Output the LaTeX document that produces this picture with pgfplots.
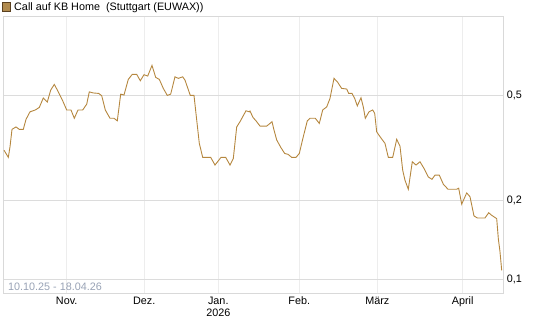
\documentclass[border=0pt]{standalone}
\usepackage{pgfplots}
\pgfplotsset{compat=1.18}
\usepackage{fontspec}
\setmainfont{Liberation Sans}
\definecolor{linebrown}{HTML}{B5873F}
\definecolor{legbrown}{HTML}{B08A4E}
\definecolor{legdark}{HTML}{5A4020}
\definecolor{gridh}{HTML}{DCDCDC}
\definecolor{gridv}{HTML}{EDEDED}
\definecolor{frame}{HTML}{D9D9D9}
\definecolor{datecol}{HTML}{98A2B5}
\begin{document}
\begin{tikzpicture}
\fontsize{10.8bp}{12.5bp}\selectfont
\path[use as bounding box] (0,0) rectangle (545bp,327bp);
\begin{axis}[
  at={(3bp,34bp)}, anchor=south west,
  width=500bp, height=277bp, scale only axis,
  xmin=3, xmax=503,
  ymode=log, ymin=0.0885, ymax=1.006,
  axis line style={frame},
  major tick length=0pt, minor tick length=0pt,
  ytick={0.1,0.2,0.5}, yticklabels={{0,1},{0,2},{0,5}},
  yticklabel pos=right,
  yminorgrids=false, yminorticks=false,
  ymajorgrids, xmajorgrids,
  y grid style={gridh, line width=0.8bp},
  x grid style={gridv, line width=0.8bp},
  xtick={66.7,144.3,218.3,299.3,377.3,462.7},
  xticklabels={Nov.,Dez.,{Jan.\\2026},Feb.,März,April},
  xticklabel style={align=center, font=\fontsize{10.8bp}{12.5bp}\selectfont},
  yticklabel style={font=\fontsize{10.8bp}{12.5bp}\selectfont},
  tick label style={text=black},
]
\addplot[linebrown, line width=0.9bp] coordinates {
(4,0.310) (8.3,0.291) (10,0.319) (12,0.372) (16,0.380) (19.3,0.372) (23.3,0.372)
(26,0.406) (30,0.434) (35.3,0.441) (39.3,0.451) (43.3,0.490) (47.3,0.473)
(50.7,0.525) (54.3,0.552) (58.3,0.517) (62.7,0.478) (66.7,0.441) (71,0.441)
(74.3,0.410) (78,0.441) (82.7,0.441) (86.7,0.464) (89.3,0.517) (93.3,0.512)
(98.7,0.510) (101.7,0.500) (105.3,0.441) (110,0.410) (114,0.410) (117.3,0.401)
(120.7,0.507) (124,0.503) (128.3,0.577) (132.3,0.603) (136.7,0.603) (140.3,0.570)
(144,0.601) (147.7,0.594) (152,0.652) (155.7,0.587) (159.3,0.577) (163.3,0.533)
(167.3,0.501) (170.7,0.507) (175,0.590) (178.3,0.582) (182.7,0.590) (185,0.573)
(190.3,0.501) (194,0.501) (196.7,0.404) (199.3,0.329) (202.7,0.291) (210.7,0.291)
(215,0.272) (221,0.291) (225.7,0.291) (230,0.272) (233.3,0.288) (236.7,0.380)
(240,0.398) (246,0.438) (249.3,0.434) (250,0.437) (253,0.413) (256,0.401)
(260,0.383) (266.7,0.383) (269.3,0.390) (272,0.398) (274,0.370) (276.7,0.339)
(280.7,0.318) (284.7,0.301) (288,0.299) (291.7,0.291) (296,0.291) (299.3,0.301)
(303.3,0.349) (307.3,0.401) (310,0.410) (315.3,0.410) (319.3,0.392) (322.7,0.441)
(326.7,0.453) (330,0.488) (334,0.582) (337.3,0.565) (341.7,0.533) (346.7,0.530)
(348.7,0.510) (352,0.510) (354.7,0.488) (357.3,0.457) (361,0.491) (363.3,0.453)
(365.3,0.410) (369,0.434) (372.7,0.441) (374.7,0.428) (376.7,0.364) (380,0.349)
(385,0.329) (388.3,0.291) (392.7,0.291) (396.7,0.341) (400,0.321) (402.7,0.260)
(405,0.238) (408.3,0.220) (412.3,0.280) (416,0.272) (420,0.280) (424,0.264)
(428.3,0.245) (432,0.240) (435,0.249) (439.3,0.249) (443.3,0.230) (448,0.220)
(456.7,0.220) (458.7,0.222) (461.7,0.193) (466.7,0.213) (470,0.206) (474,0.174)
(477.3,0.171) (485,0.171) (488.7,0.179) (491.7,0.175) (496.7,0.170) (498.3,0.143)
(500,0.127) (501.7,0.108)
};
\end{axis}
\node[anchor=west, inner sep=0pt, text=datecol] at (8bp,40bp) {10.10.25 - 18.04.26};
\node[anchor=west, inner sep=0pt] at (2bp,319.5bp) {{\setlength{\fboxsep}{0pt}\setlength{\fboxrule}{0.7bp}\fcolorbox{legdark}{legbrown}{\rule{0pt}{7.6bp}\hspace{7.6bp}}}\hspace{3bp}Call auf KB Home\ \ (Stuttgart (EUWAX))};
\end{tikzpicture}
\end{document}
